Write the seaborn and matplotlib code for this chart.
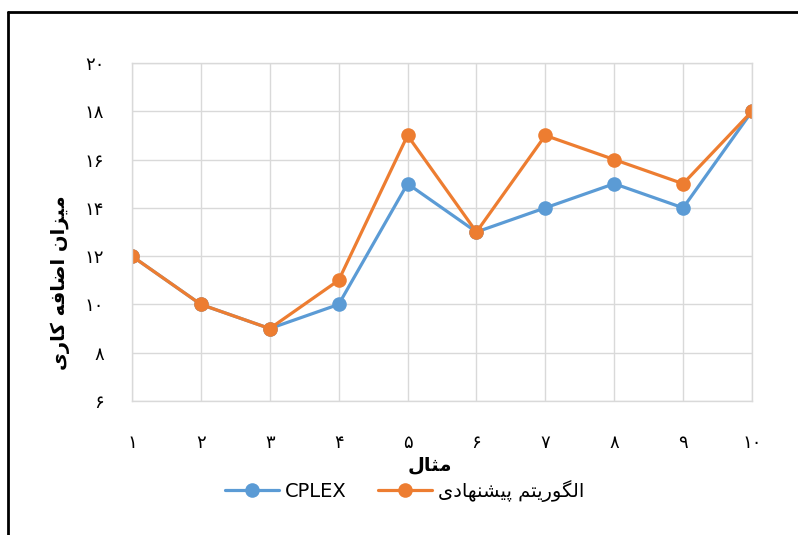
import pandas as pd
import matplotlib
matplotlib.use("Agg")
import matplotlib.pyplot as plt
from matplotlib.lines import Line2D
import seaborn as sns

# data
examples = [1, 2, 3, 4, 5, 6, 7, 8, 9, 10]
cplex = [12, 10, 9, 10, 15, 13, 14, 15, 14, 18]
proposed = [12, 10, 9, 11, 17, 13, 17, 16, 15, 18]
x_labels = ["۱", "۲", "۳", "۴", "۵", "۶", "۷", "۸", "۹", "۱۰"]
y_ticks = [6, 8, 10, 12, 14, 16, 18, 20]
y_labels = ["۶", "۸", "۱۰", "۱۲", "۱۴", "۱۶", "۱۸", "۲۰"]
series_names = ["CPLEX", "الگوریتم پیشنهادی"]
x_title = "مثال"
y_title = "میزان اضافه کاری"

# matplotlib does no Arabic shaping / RTL, so do a small one by hand
FORMS = {
    "ا": ("\uFE8D", "\uFE8E"),
    "د": ("\uFEA9", "\uFEAA"),
    "ر": ("\uFEAD", "\uFEAE"),
    "ز": ("\uFEAF", "\uFEB0"),
    "و": ("\uFEED", "\uFEEE"),
    "ت": ("\uFE95", "\uFE96", "\uFE97", "\uFE98"),
    "ث": ("\uFE99", "\uFE9A", "\uFE9B", "\uFE9C"),
    "ش": ("\uFEB5", "\uFEB6", "\uFEB7", "\uFEB8"),
    "ض": ("\uFEBD", "\uFEBE", "\uFEBF", "\uFEC0"),
    "ف": ("\uFED1", "\uFED2", "\uFED3", "\uFED4"),
    "ل": ("\uFEDD", "\uFEDE", "\uFEDF", "\uFEE0"),
    "م": ("\uFEE1", "\uFEE2", "\uFEE3", "\uFEE4"),
    "ن": ("\uFEE5", "\uFEE6", "\uFEE7", "\uFEE8"),
    "ه": ("\uFEE9", "\uFEEA", "\uFEEB", "\uFEEC"),
    "ی": ("\uFBFC", "\uFBFD", "\uFBFE", "\uFBFF"),
    "ک": ("\uFB8E", "\uFB8F", "\uFB90", "\uFB91"),
    "گ": ("\uFB92", "\uFB93", "\uFB94", "\uFB95"),
    "پ": ("\uFB56", "\uFB57", "\uFB58", "\uFB59"),
}


def fa(text):
    out = []
    for i, c in enumerate(text):
        if c not in FORMS:
            out.append(c)
            continue
        prev = text[i - 1] if i > 0 else None
        nxt = text[i + 1] if i + 1 < len(text) else None
        join_prev = prev in FORMS and len(FORMS[prev]) == 4
        join_next = nxt in FORMS and len(FORMS[c]) == 4
        f = FORMS[c]
        if join_prev and join_next:
            out.append(f[3])
        elif join_prev:
            out.append(f[1])
        elif join_next:
            out.append(f[2])
        else:
            out.append(f[0])
    return "".join(reversed(out))


df = pd.DataFrame({
    "example": examples * 2,
    "value": cplex + proposed,
    "series": [series_names[0]] * len(examples) + [fa(series_names[1])] * len(examples),
})

sns.set_style("white")
plt.rcParams["font.family"] = ["DejaVu Sans"]
plt.rcParams["text.color"] = "black"
plt.rcParams["axes.labelcolor"] = "black"
plt.rcParams["xtick.color"] = "black"
plt.rcParams["ytick.color"] = "black"

fig = plt.figure(figsize=(7.98, 5.35), dpi=100)
ax = fig.add_axes([132 / 798, 1 - 401 / 535, 620 / 798, 338 / 535])

sns.lineplot(data=df, x="example", y="value", hue="series",
             palette=["#5B9BD5", "#ED7D31"], marker="o", markersize=10.5,
             markeredgewidth=0, linewidth=2.3, ax=ax, legend=True)

ax.set_xlim(1, 10)
ax.set_ylim(6, 20)
ax.set_xticks(examples)
ax.set_xticklabels(x_labels, fontsize=13)
ax.set_yticks(y_ticks)
ax.set_yticklabels(y_labels, fontsize=13)
ax.tick_params(axis="x", length=0, pad=24)
ax.tick_params(axis="y", length=0, pad=20)
ax.grid(True, color="#D9D9D9", linewidth=1)
for s in ax.spines.values():
    s.set_color("#D9D9D9")
    s.set_linewidth(1)

ax.set_xlabel(fa(x_title), fontsize=14, fontweight="bold")
ax.xaxis.set_label_coords(0.48, -0.16)
ax.set_ylabel(fa(y_title), fontsize=14, fontweight="bold")
ax.yaxis.set_label_coords(-0.1, 0.35)

leg = ax.legend(loc="center", bbox_to_anchor=(0.44, -0.265), ncol=2, frameon=False,
                fontsize=14, handlelength=2.8, columnspacing=1.6, handletextpad=0.3)
for h in leg.legend_handles:
    h.set_markersize(10.5)
    h.set_linewidth(2.3)

# partial black frame around the picture
fig.add_artist(Line2D([8 / 798, 1], [1 - 12 / 535, 1 - 12 / 535], color="black", linewidth=2))
fig.add_artist(Line2D([8 / 798, 8 / 798], [0, 1 - 12 / 535], color="black", linewidth=2))

fig.savefig("out.png", dpi=100)
